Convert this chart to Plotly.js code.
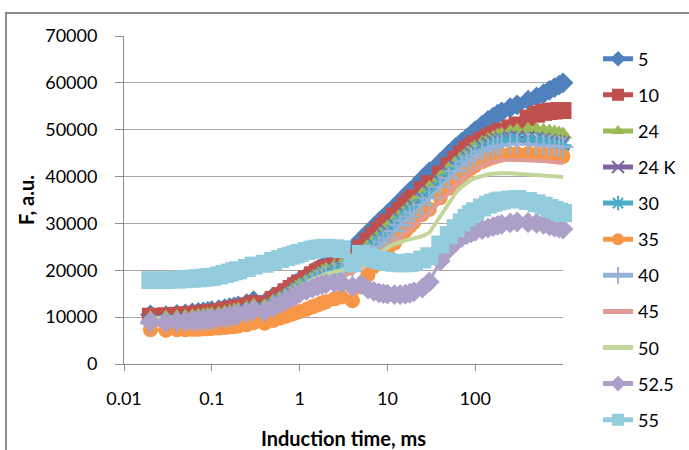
<!DOCTYPE html>
<html><head><meta charset="utf-8">
<script src="https://cdn.plot.ly/plotly-3.0.1.min.js"></script>
<style>html,body{margin:0;padding:0;background:#fff;} #chart{width:689px;height:450px;}</style>
</head><body><div id="chart"></div>
<script>
const time_ms = [0.02,0.03,0.04,0.05,0.06,0.07,0.08,0.09,0.1,0.12,0.14,0.16,0.18,0.2,0.25,0.3,
0.4,0.5,0.6,0.7,0.8,0.9,1,1.2,1.4,1.6,1.8,2,2.5,3,
4,5,6,7,8,9,10,12,14,16,18,20,25,30,
40,50,60,70,80,90,100,120,140,160,180,200,250,300,
400,500,600,700,800,900,1000];

const s5 = [10500,10300,10600,10700,10900,11000,11100,11200,11400,11600,11800,12000,12200,12400,12900,13500,
13000,14300,15000,15800,16500,17100,17800,18700,19500,20100,20600,21000,21800,22200,
24500,26500,28000,29200,30300,31200,32000,33500,34700,35800,36800,37600,39500,41000,
43000,44800,46200,47300,48200,49000,49800,51000,52000,52700,53300,53800,54700,55300,
56300,57000,57700,58400,59000,59500,60000];
const s10 = [10200,10300,10400,10500,10600,10700,10800,10900,11000,11200,11400,11600,11800,12000,12400,12900,
12600,13800,14600,15400,16100,16700,17300,18200,19000,19600,20100,20500,21300,21800,
23000,24800,26200,27400,28500,29400,30200,31600,32800,33800,34700,35500,37200,38500,
40500,42300,43700,44800,45700,46400,47000,47800,48400,48900,49300,49700,50400,51000,
52500,53300,53700,53900,54000,54100,54100];
const s24 = [9800,9900,10000,10100,10200,10300,10400,10500,10600,10800,11000,11200,11400,11600,12000,12500,
12300,13400,14200,15000,15700,16300,16900,17800,18600,19200,19700,20100,20800,21200,
22200,23800,25200,26400,27500,28400,29200,30600,31800,32800,33700,34500,36200,37600,
39800,41600,43000,44100,45000,45700,46300,47200,47800,48300,48700,49000,49500,49800,
50000,50000,49800,49600,49400,49200,49000];
const s24K = [9200,9300,9400,9500,9600,9700,9800,9900,10000,10200,10400,10600,10800,11000,11400,11900,
11700,12800,13600,14400,15100,15700,16300,17200,18000,18600,19100,19500,20200,20600,
21500,23000,24300,25500,26600,27500,28300,29800,31000,32000,32900,33700,35400,36800,
39000,40800,42200,43300,44200,44900,45500,46400,47000,47500,47800,48000,48300,48400,
48300,48100,47900,47700,47500,47300,47100];
const s30 = [9000,9100,9200,9300,9400,9500,9600,9700,9800,10000,10200,10400,10600,10800,11200,11700,
11500,12600,13400,14200,14900,15500,16100,17000,17800,18400,18900,19300,20000,20400,
21200,22600,23900,25100,26200,27100,27900,29400,30600,31600,32500,33300,35000,36400,
38600,40400,41800,42900,43800,44500,45100,46000,46600,47100,47400,47600,47900,48000,
47900,47700,47500,47300,47100,46900,46700];
const s35 = [7300,7200,7300,7300,7400,7400,7500,7500,7600,7700,7800,7900,8000,8100,8400,8800,
8700,9300,9800,10200,10600,10900,11200,11700,12200,12600,13000,13300,13900,14300,
13500,16500,19000,20800,22200,23300,24200,25800,27200,28400,29400,30200,31900,33000,
35500,37500,39000,40200,41100,41800,42400,43200,43700,44100,44400,44600,44800,44900,
44900,44800,44700,44600,44500,44400,44300];
const s40 = [8700,8800,8900,9000,9100,9200,9300,9400,9500,9700,9900,10100,10300,10500,10900,11400,
11200,12200,13000,13700,14400,15000,15600,16400,17200,17800,18300,18700,19400,19800,
20500,21800,23000,24100,25200,26100,26900,28400,29600,30600,31500,32300,34000,35400,
37800,39700,41200,42300,43200,43900,44500,45300,45800,46200,46500,46700,46900,47000,
46900,46800,46700,46600,46500,46400,46300];
const s45 = [8300,8300,8400,8400,8500,8500,8600,8600,8700,8900,9100,9300,9500,9700,10100,10600,
10400,11300,12000,12700,13300,13900,14500,15300,16000,16600,17100,17500,18200,18600,
19500,20500,21500,22400,23200,24000,24700,26000,27100,28000,28800,29500,31000,32200,
34500,36500,38100,39300,40300,41000,41600,42400,42900,43200,43400,43500,43600,43600,
43500,43400,43300,43200,43100,43000,42900];
const s50 = [9800,9800,9900,9900,10000,10000,10100,10100,10200,10400,10600,10800,11000,11200,11600,12100,
11900,12900,13700,14500,15200,15800,16400,17300,18000,18500,18900,19200,19700,20000,
20000,20800,21800,22700,23500,24200,24800,25600,26100,26400,26600,26800,27300,28000,
31500,34500,36500,37800,38700,39300,39700,40200,40500,40600,40700,40700,40700,40600,
40500,40400,40300,40200,40100,40000,39900];
const s52_5 = [9000,8900,9000,9100,9200,9300,9400,9500,9600,9800,10000,10200,10400,10600,11000,11500,
11200,12100,12800,13500,14100,14600,15100,15700,16200,16600,16900,17100,17300,17300,
16500,17000,16000,15500,15200,15000,14900,14800,14800,14900,15100,15400,16200,17500,
22000,24500,26000,27000,27600,28000,28300,28700,29000,29300,29600,29800,30100,30300,
30200,30000,29800,29500,29200,29000,28800];
const s55 = [17900,17900,18000,18100,18200,18300,18400,18500,18600,18900,19200,19500,19800,20000,20500,21000,
21400,22000,22400,22800,23100,23400,23700,24100,24400,24600,24700,24800,24700,24500,
21500,23500,23000,22500,22200,22000,21800,21600,21500,21500,21600,21800,22300,23000,
25500,27500,29000,30200,31200,32000,32600,33400,34000,34400,34700,34900,35100,35200,
34800,34300,33800,33300,32900,32500,32200];

const seriesNames = ['5','10','24','24 K','30','35','40','45','50','52.5','55'];
const seriesValues = [s5, s10, s24, s24K, s30, s35, s40, s45, s50, s52_5, s55];
const xTickVals = [0.01, 0.1, 1, 10, 100];
const xTickText = ['0.01', '0.1', '1', '10', '100'];

const colors = ['#4F81BD','#C0504D','#9BBB59','#8064A2','#4BACC6','#F79646','#95B3D7','#E09A98','#C3D69B','#ADA0C8','#93CDDD'];
const symbols = ['diamond','square','triangle-up','x-thin-open','asterisk-open','circle','cross-thin-open',null,null,'diamond','square'];
const sizes = [16,17,16,13,14,15,15,0,0,16,18];

const traces = seriesNames.map((n, i) => {
  const open = symbols[i] && symbols[i].indexOf('open') >= 0;
  const t = {
    type: 'scatter',
    x: time_ms,
    y: seriesValues[i],
    name: n,
    legendgroup: 'g' + i,
    mode: symbols[i] ? 'lines+markers' : 'lines',
    line: {color: colors[i], width: symbols[i] ? 3 : 4},
    cliponaxis: false
  };
  if (symbols[i]) {
    t.marker = {symbol: symbols[i], size: sizes[i], color: colors[i],
      line: {color: colors[i], width: open ? 2 : 0}};
  }
  return t;
});

const axisGray = '#8c8c8c';
const layout = {
  width: 689, height: 450,
  margin: {l: 124, r: 126, t: 36, b: 86},
  paper_bgcolor: '#ffffff', plot_bgcolor: '#ffffff',
  font: {family: 'Lato, "Open Sans", sans-serif', size: 18, color: '#000'},
  showlegend: true,
  legend: {xref: 'container', yref: 'container', x: 0.868, xanchor: 'left', y: 0.91, yanchor: 'top',
    tracegroupgap: 9.7, maxheight: 440, itemsizing: 'constant', font: {size: 18}, bgcolor: 'rgba(0,0,0,0)'},
  xaxis: {type: 'log', range: [-2, 3], tickvals: xTickVals, ticktext: xTickText,
    ticks: 'outside', ticklen: 6, tickcolor: axisGray, showline: true, linecolor: axisGray,
    showgrid: false, zeroline: false, ticklabelstandoff: 12,
    title: {text: 'Induction time, ms', font: {size: 20, weight: 'bold'}, standoff: 28}},
  yaxis: {range: [0, 70000], tick0: 0, dtick: 10000, tickformat: 'd',
    ticks: 'outside', ticklen: 8, tickcolor: axisGray, showline: true, linecolor: axisGray,
    gridcolor: '#a6a6a6', zeroline: false, ticklabelstandoff: 14,
    title: {text: 'F, a.u.', font: {size: 20, weight: 'bold'}, standoff: 5}},
  shapes: [{type: 'rect', xref: 'paper', yref: 'paper', x0: -0.2688, x1: 1.35, y0: -0.35, y1: 1.0703,
    line: {color: '#8a8a8a', width: 2}, fillcolor: 'rgba(0,0,0,0)', layer: 'below'}]
};

Plotly.newPlot('chart', traces, layout, {displayModeBar: false, staticPlot: true});
</script>
</body></html>
